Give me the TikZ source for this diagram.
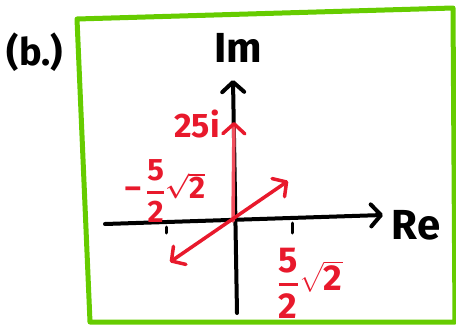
\documentclass[tikz,border=0pt]{standalone}
\usepackage{amsmath}
\usepackage{fontspec}
\setmainfont{Fira Sans}
\usetikzlibrary{arrows.meta}

\definecolor{framegreen}{HTML}{66CC00}
\definecolor{vecred}{HTML}{E8192C}
\definecolor{vecpink}{HTML}{F2505E}

\newcommand{\halfroot}{\genfrac{}{}{2.5pt}{0}{\text{5}}{\text{2}}\sqrt{\text{2}}}

\begin{document}
\begin{tikzpicture}[
  x=1pt, y=-1pt,
  >={Straight Barb[length=10pt, width=22pt, round]},
  axis/.style={line width=4pt, line cap=round, black},
  vec/.style={line width=3.5pt, line cap=round, vecred},
  tick/.style={line width=3pt, line cap=round, black},
  blabel/.style={inner sep=0pt, font=\fontsize{42}{42}\selectfont\bfseries},
  rlabel/.style={inner sep=0pt, text=vecred, font=\fontsize{34}{34}\selectfont\bfseries},
  smallfrac/.style={inner sep=0pt, text=vecred, font=\fontsize{31}{31}\selectfont\bfseries\boldmath},
  bigfrac/.style={inner sep=0pt, text=vecred, font=\fontsize{36}{36}\selectfont\bfseries\boldmath}
]
\useasboundingbox (0,0) rectangle (456,327);

% Frame
\draw[framegreen, line width=5pt, line join=round]
  (77,19) -- (453,8) -- (455,322) -- (90,322) -- cycle;

% Part label
\node[blabel, font=\fontsize{38}{38}\selectfont\bfseries] (part) at (35,52) {(b.)};

% Axes
\coordinate (O)   at (233,221);
\coordinate (reW) at (105,224);
\coordinate (reE) at (383,215);
\coordinate (imS) at (237,313);
\coordinate (imN) at (233,80);
\draw[axis,->] (reW) -- (reE);
\draw[axis,->] (imS) -- (imN);
\node[blabel] (re) at (416,225) {Re};
\node[blabel] (im) at (238,48) {Im};

% Ticks
\draw[tick] (166,227) -- (166,233);
\draw[tick] (292,223) -- (292,233);

% Vectors
\coordinate (tipUp) at (234,122);
\coordinate (tipNE) at (288,181);
\coordinate (tipSW) at (170,262);
\draw[vec, vecpink, -{Straight Barb[length=10pt, width=22pt, round, color=vecred]}] (O) -- (tipUp);
\draw[vec,<->] (tipSW) -- (tipNE);

% Labels
\node[rlabel] (lup) at (197,124) {25i};
\node[smallfrac] (lneg) at (165,191) {$\text{–\,}\halfroot$};
\node[bigfrac] (lpos) at (310,283) {$\halfroot$};

\end{tikzpicture}
\end{document}
